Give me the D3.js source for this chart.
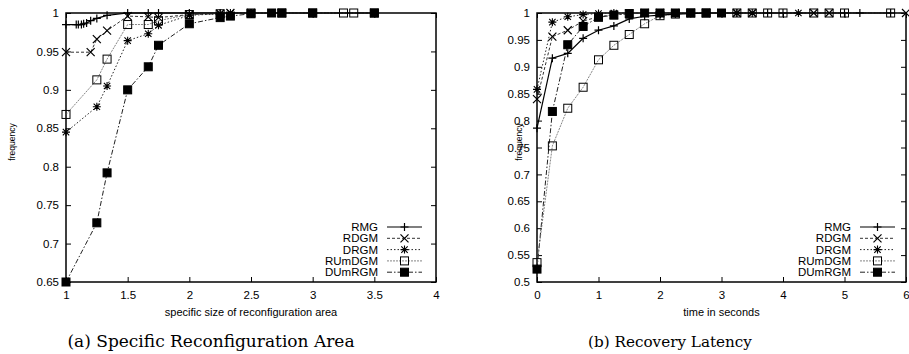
<!DOCTYPE html>
<html><head><meta charset="utf-8">
<script src="https://cdn.jsdelivr.net/npm/d3@7"></script>
<style>
body{margin:0;background:#fff;}
svg{display:block;}
</style></head>
<body>
<svg id="c" width="909" height="354"></svg>
<script>
const seriesNames = ["RMG","RDGM","DRGM","RUmDGM","DUmRGM"];

// Chart (a): specific size of reconfiguration area
const aRMG    = [[1,0.985],[1.083,0.985],[1.1,0.985],[1.125,0.985],[1.143,0.986],[1.167,0.987],[1.2,0.990],[1.25,0.993],[1.333,0.997],[1.5,1.0],[1.667,1.0],[1.75,1.0],[2,1.0],[2.25,1.0],[2.5,1.0],[2.75,1.0],[3,1.0],[3.5,1.0]];
const aRDGM   = [[1,0.949],[1.2,0.949],[1.25,0.966],[1.333,0.977],[1.5,0.996],[1.667,0.995],[1.75,0.994],[2,0.998],[2.25,0.999],[2.333,1.0],[2.5,1.0],[2.75,1.0],[3,1.0],[3.5,1.0]];
const aDRGM   = [[1,0.845],[1.25,0.878],[1.333,0.905],[1.5,0.964],[1.667,0.973],[1.75,0.984],[2,0.997],[2.25,0.999],[2.333,1.0],[2.5,1.0],[2.75,1.0],[3,1.0],[3.5,1.0]];
const aRUmDGM = [[1,0.868],[1.25,0.913],[1.333,0.940],[1.5,0.985],[1.667,0.985],[1.75,0.990],[2,0.998],[2.25,0.999],[2.5,1.0],[2.75,1.0],[3,1.0],[3.25,1.0],[3.333,1.0],[3.5,1.0]];
const aDUmRGM = [[1,0.650],[1.25,0.727],[1.333,0.792],[1.5,0.900],[1.667,0.930],[1.75,0.958],[2,0.986],[2.25,0.994],[2.333,0.996],[2.5,0.999],[2.667,1.0],[2.75,1.0],[3,1.0],[3.5,1.0]];

// Chart (b): recovery latency
const bRMG    = [[0,0.786],[0.25,0.916],[0.5,0.925],[0.75,0.953],[1,0.968],[1.25,0.976],[1.5,0.989],[1.75,0.994],[2,0.996],[2.25,0.998],[2.5,0.999],[2.75,1],[3,1],[3.25,1],[3.75,1],[4,1],[5,1],[5.25,1],[5.75,1]];
const bRDGM   = [[0,0.840],[0.25,0.956],[0.5,0.968],[0.75,0.985],[1,0.993],[1.25,0.997],[1.5,0.999],[1.75,1],[2,1],[2.25,1],[2.5,1],[2.75,1],[3.25,1],[3.5,1],[4.5,1],[4.75,1],[6,1]];
const bDRGM   = [[0,0.858],[0.25,0.983],[0.5,0.993],[0.75,0.997],[1,0.999],[1.25,1],[1.5,1],[1.75,1],[2,1],[2.25,1],[2.5,1],[2.75,1],[3.25,1],[3.5,1],[4.25,1]];
const bRUmDGM = [[0,0.536],[0.25,0.753],[0.5,0.823],[0.75,0.862],[1,0.913],[1.25,0.940],[1.5,0.960],[1.75,0.980],[2,0.995],[2.25,0.998],[2.5,1],[2.75,1],[3.25,1],[3.5,1],[3.75,1],[4,1],[4.5,1],[4.75,1],[5,1],[5.75,1]];
const bDUmRGM = [[0,0.524],[0.25,0.817],[0.5,0.941],[0.75,0.975],[1,0.992],[1.25,0.996],[1.5,0.999],[1.75,1],[2,1],[2.25,1],[2.5,1],[2.75,1],[3,1]];

const aXTicks = [1,1.5,2,2.5,3,3.5,4];
const aYTicks = [0.65,0.7,0.75,0.8,0.85,0.9,0.95,1];
const bXTicks = [0,1,2,3,4,5,6];
const bYTicks = [0.5,0.55,0.6,0.65,0.7,0.75,0.8,0.85,0.9,0.95,1];

const styles = {
  RMG:    {stroke:"#000", width:1.2, dash:null, marker:"plus"},
  RDGM:   {stroke:"#333", width:1, dash:"3,2", marker:"cross"},
  DRGM:   {stroke:"#222", width:1, dash:"1.5,2", marker:"star"},
  RUmDGM: {stroke:"#666", width:0.8, dash:"2,1", marker:"box"},
  DUmRGM: {stroke:"#222", width:1, dash:"5,2,1.5,2", marker:"fbox"}
};

const SANS = "'Liberation Sans', Arial, sans-serif";
const SERIF = "'DejaVu Serif', 'Liberation Serif', serif";
const svg = d3.select("#c");

function drawMarker(g, type, x, y){
  const s = 4;
  if(type==="plus"){
    g.append("path").attr("d",`M${x-s},${y}H${x+s}M${x},${y-s}V${y+s}`).attr("stroke","#000").attr("stroke-width",1.2).attr("fill","none");
  } else if(type==="cross"){
    g.append("path").attr("d",`M${x-s},${y-s}L${x+s},${y+s}M${x-s},${y+s}L${x+s},${y-s}`).attr("stroke","#000").attr("stroke-width",1.2).attr("fill","none");
  } else if(type==="star"){
    g.append("path").attr("d",`M${x-s},${y}H${x+s}M${x},${y-s}V${y+s}M${x-s*0.8},${y-s*0.8}L${x+s*0.8},${y+s*0.8}M${x-s*0.8},${y+s*0.8}L${x+s*0.8},${y-s*0.8}`).attr("stroke","#000").attr("stroke-width",1.1).attr("fill","none");
  } else if(type==="box"){
    g.append("rect").attr("x",x-s).attr("y",y-s).attr("width",2*s).attr("height",2*s).attr("fill","#fff").attr("fill-opacity",0).attr("stroke","#000").attr("stroke-width",1);
  } else if(type==="fbox"){
    g.append("rect").attr("x",x-s).attr("y",y-s).attr("width",2*s).attr("height",2*s).attr("fill","#000").attr("stroke","#000").attr("stroke-width",1);
  }
}

function chart(opt){
  const x = d3.scaleLinear().domain(opt.xDomain).range([opt.left, opt.right]);
  const y = d3.scaleLinear().domain(opt.yDomain).range([opt.bottom, opt.top]);
  const g = svg.append("g");

  const xAxis = d3.axisBottom(x).tickValues(opt.xTicks).tickSize(-5).tickPadding(9).tickFormat(d=>d3.format("")(d));
  g.append("g").attr("transform",`translate(0,${opt.bottom})`).call(xAxis);
  const yAxis = d3.axisLeft(y).tickValues(opt.yTicks).tickSize(-5).tickPadding(7).tickFormat(d=>d3.format("")(+d.toFixed(2)));
  g.append("g").attr("transform",`translate(${opt.left},0)`).call(yAxis);
  g.append("g").attr("transform",`translate(0,${opt.top})`).call(d3.axisTop(x).tickValues(opt.xTicks).tickSize(-5).tickFormat(""));
  g.append("g").attr("transform",`translate(${opt.right},0)`).call(d3.axisRight(y).tickValues(opt.yTicks).tickSize(-5).tickFormat(""));
  g.selectAll(".domain").remove();
  g.selectAll(".tick line").attr("stroke","#000").attr("stroke-width",1);
  g.selectAll(".tick text").attr("fill","#000").style("font-family",SANS).style("font-size","11.5px");

  g.append("rect").attr("x",opt.left).attr("y",opt.top).attr("width",opt.right-opt.left).attr("height",opt.bottom-opt.top)
    .attr("fill","none").attr("stroke","#000").attr("stroke-width",1.5);

  const line = d3.line().x(d=>x(d[0])).y(d=>y(d[1]));
  const order = [4,3,2,1,0];
  order.forEach(i=>{
    const name = seriesNames[i]; const st = styles[name]; const data = opt.data[i];
    g.append("path").datum(data).attr("d",line).attr("fill","none").attr("stroke",st.stroke)
      .attr("stroke-width",st.width).attr("stroke-dasharray",st.dash);
  });
  order.forEach(i=>{
    const name = seriesNames[i]; const st = styles[name]; const data = opt.data[i];
    const mg = g.append("g");
    data.forEach(d=>drawMarker(mg, st.marker, x(d[0]), y(d[1])));
  });

  g.append("text").attr("x",(opt.left+opt.right)/2).attr("y",opt.bottom+34).attr("text-anchor","middle")
    .style("font-family",SANS).style("font-size","11px").text(opt.xLabel);
  g.append("text").attr("transform",`translate(${opt.yLabelX},${opt.yLabelY}) rotate(-90)`).attr("text-anchor","middle")
    .style("font-family",SANS).style("font-size","8.5px").text("frequency");

  seriesNames.forEach((name,i)=>{
    const st = styles[name];
    const ly = opt.legendY + i*11.3;
    g.append("text").attr("x",opt.legendX).attr("y",ly).attr("dy","0.35em").attr("text-anchor","end")
      .style("font-family",SANS).style("font-size","11.5px").text(name);
    g.append("line").attr("x1",opt.legendX+9).attr("x2",opt.legendX+44).attr("y1",ly).attr("y2",ly)
      .attr("stroke",st.stroke).attr("stroke-width",st.width).attr("stroke-dasharray",st.dash);
    drawMarker(g, st.marker, opt.legendX+26.5, ly);
  });

  const cap = g.append("text").attr("x",opt.capX).attr("y",347).attr("text-anchor","middle")
    .style("font-family",SERIF).style("font-size","15px").text(opt.caption);
  const w = cap.node().getComputedTextLength();
  if(w>0){
    const fs = Math.max(13, Math.min(17, 15*opt.capW/w));
    cap.style("font-size", fs+"px");
  }
}

chart({left:66,right:436,top:13,bottom:282,xDomain:[1,4],yDomain:[0.65,1],xTicks:aXTicks,yTicks:aYTicks,
  data:[aRMG,aRDGM,aDRGM,aRUmDGM,aDUmRGM],xLabel:"specific size of reconfiguration area",
  yLabelX:15,yLabelY:142,legendX:378,legendY:227,caption:"(a)  Specific Reconfiguration Area",capX:211,capW:305});
chart({left:537,right:906,top:13,bottom:282,xDomain:[0,6],yDomain:[0.5,1],xTicks:bXTicks,yTicks:bYTicks,
  data:[bRMG,bRDGM,bDRGM,bRUmDGM,bDUmRGM],xLabel:"time in seconds",
  yLabelX:522,yLabelY:142,legendX:851,legendY:227,caption:"(b)  Recovery Latency",capX:670,capW:164});
</script>
</body></html>
